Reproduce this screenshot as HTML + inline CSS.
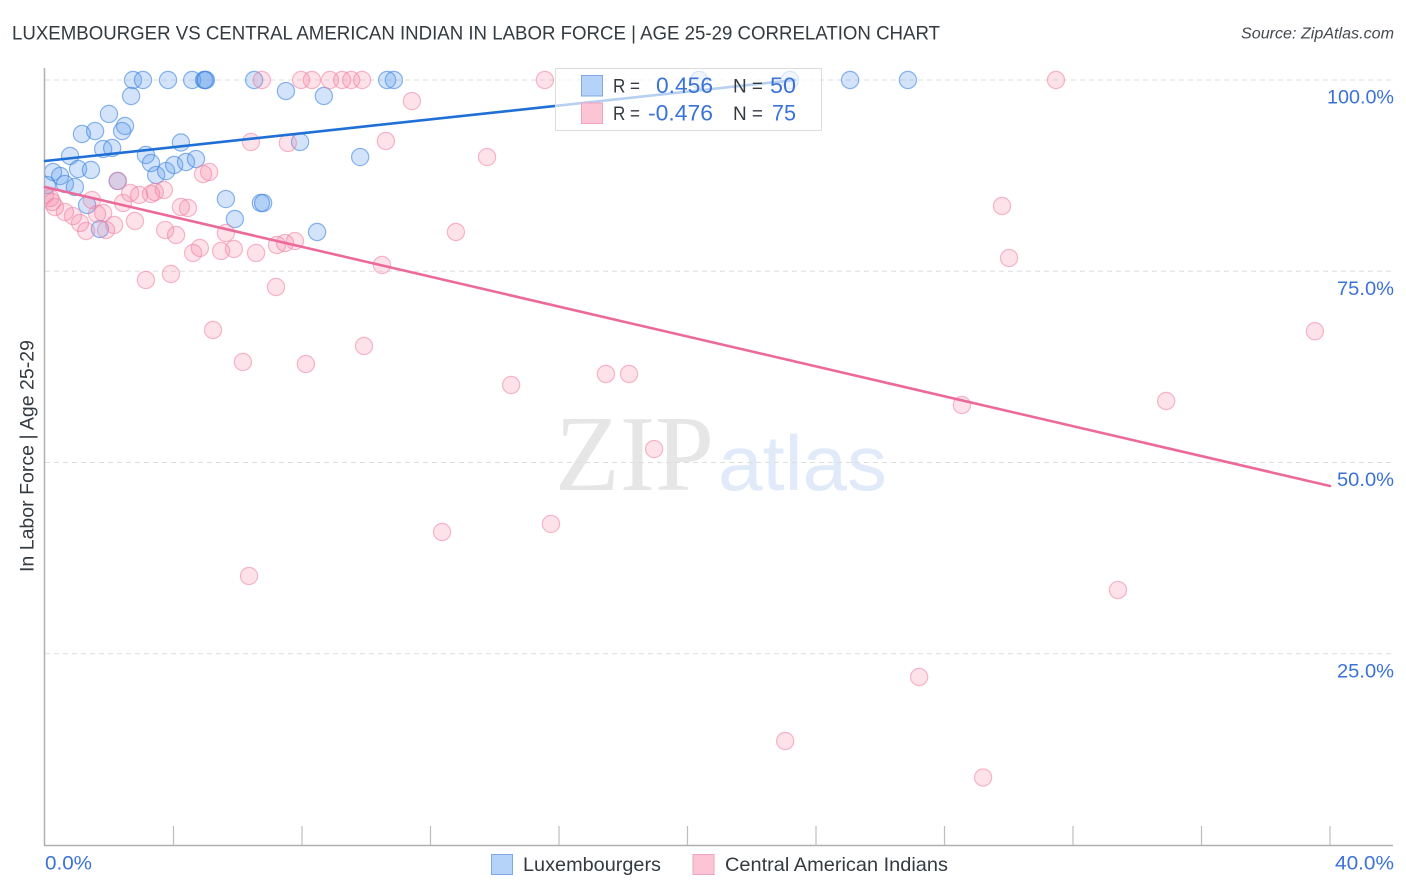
<!DOCTYPE html>
<html lang="en">
<head>
<meta charset="utf-8">
<title>Luxembourger vs Central American Indian in Labor Force | Age 25-29 Correlation Chart</title>
<style>
html,body{margin:0;padding:0;background:#fff;}
svg{display:block;font-family:"Liberation Sans",sans-serif;}
</style>
</head>
<body>
<svg id="chart" width="1406" height="892" viewBox="0 0 1406 892" xmlns="http://www.w3.org/2000/svg">
  <defs>
    <clipPath id="plot-clip"><rect x="45" y="60" width="1350" height="786"/></clipPath>
  </defs>
  <rect x="0" y="0" width="1406" height="892" fill="#ffffff"/>
  <text x="12" y="39.5" font-size="19.5" fill="#333a40" textLength="928" lengthAdjust="spacingAndGlyphs">LUXEMBOURGER VS CENTRAL AMERICAN INDIAN IN LABOR FORCE | AGE 25-29 CORRELATION CHART</text>
  <text x="1241" y="38.5" font-size="15.5" font-style="italic" fill="#444a50" textLength="153" lengthAdjust="spacingAndGlyphs">Source: ZipAtlas.com</text>

  <g>
    <text x="555" y="490" font-family="'Liberation Serif',serif" font-size="108" fill="#e6e6e6" textLength="159" lengthAdjust="spacingAndGlyphs">ZIP</text>
    <text x="718" y="490" font-family="'Liberation Sans',sans-serif" font-size="78" fill="#e0eaf9" textLength="169" lengthAdjust="spacingAndGlyphs">atlas</text>
  </g>

  <g id="grid"></g>
  <g id="axes"></g>
  <g id="points-blue" clip-path="url(#plot-clip)"></g>
  <g id="points-pink" clip-path="url(#plot-clip)"></g>
  <g id="trends"></g>

  <text transform="translate(33.5,572) rotate(-90)" x="0" y="0" font-size="19" fill="#333a40" textLength="232" lengthAdjust="spacingAndGlyphs">In Labor Force | Age 25-29</text>

  <g>
    <rect x="555.5" y="68.5" width="266" height="62" fill="#ffffff" fill-opacity="0.68" stroke="#dcdcdc" stroke-width="1"/>
    <rect x="581.5" y="75.5" width="21" height="20.5" fill="#b5d2f8" stroke="#7fa8e4" stroke-width="1"/>
    <rect x="581.5" y="103" width="21" height="20.5" fill="#fcc5d6" stroke="#efa3bd" stroke-width="1"/>
    <text x="613" y="92.5" font-size="19" fill="#333a40" textLength="27" lengthAdjust="spacingAndGlyphs">R =</text>
    <text x="656" y="93" font-size="22" fill="#3b72d6" textLength="57" lengthAdjust="spacingAndGlyphs">0.456</text>
    <text x="733" y="92.5" font-size="19" fill="#333a40" textLength="30" lengthAdjust="spacingAndGlyphs">N =</text>
    <text x="770" y="93" font-size="22" fill="#3b72d6" textLength="26" lengthAdjust="spacingAndGlyphs">50</text>
    <text x="613" y="120" font-size="19" fill="#333a40" textLength="27" lengthAdjust="spacingAndGlyphs">R =</text>
    <text x="648" y="120.5" font-size="22" fill="#3b72d6" textLength="65" lengthAdjust="spacingAndGlyphs">-0.476</text>
    <text x="733" y="120" font-size="19" fill="#333a40" textLength="30" lengthAdjust="spacingAndGlyphs">N =</text>
    <text x="772" y="120.5" font-size="22" fill="#3b72d6" textLength="24" lengthAdjust="spacingAndGlyphs">75</text>
  </g>

  <g>
    <rect x="491.5" y="854.5" width="21" height="20" fill="#b5d2f8" stroke="#7fa8e4" stroke-width="1"/>
    <text x="523" y="871" font-size="19.5" fill="#333a40" textLength="138" lengthAdjust="spacingAndGlyphs">Luxembourgers</text>
    <rect x="693" y="854.5" width="21" height="20" fill="#fcc5d6" stroke="#efa3bd" stroke-width="1"/>
    <text x="725" y="871" font-size="19.5" fill="#333a40" textLength="223" lengthAdjust="spacingAndGlyphs">Central American Indians</text>
  </g>
</svg>
<script>
var xTickValues = [4, 8, 12, 16, 20, 24, 28, 32, 36, 40];
var yTickValues = [100, 75, 50, 25];
var yTickLabels = ["100.0%", "75.0%", "50.0%", "25.0%"];
var xEndLabels = ["0.0%", "40.0%"];

var blueX = [2.74,3.05,3.83,4.58,4.95,4.98,5.01,6.51,10.65,10.86,20.36,23.19,25.06,26.86,
  7.50,2.68,8.68,1.99,1.15,1.56,2.49,2.40,1.81,2.09,4.23,7.94,9.81,0.78,3.14,3.30,1.03,1.43,
  3.46,3.77,4.02,4.39,4.70,2.26,0.25,0.47,0.62,0.93,0.06,1.31,1.71,5.63,6.72,6.79,5.91,8.47];
var blueY = [100,100,100,100,100,100,100,100,100,100,100,100,100,100,
  98.56,97.91,97.91,95.56,92.94,93.33,93.99,93.33,90.98,91.11,91.83,91.90,89.93,90.07,90.20,89.15,88.37,88.24,
  87.58,88.10,88.89,89.28,89.67,86.80,87.97,87.45,86.41,86.01,86.27,83.66,80.52,84.44,83.92,83.92,81.83,80.13];

var pinkX = [6.75,7.97,8.31,8.87,9.25,9.53,9.87,15.56,31.47,
  11.42,10.61,13.76,6.41,7.56,5.11,4.92,2.27,
  3.70,3.42,3.30,2.93,2.65,2.43,1.46,4.23,4.45,2.80,3.74,4.08,5.63,2.15,1.81,1.62,1.90,1.28,1.09,0.87,0.62,0.31,
  0.00,0.16,0.22,
  4.82,4.61,5.48,5.88,6.57,7.22,7.47,7.78,
  10.49,3.14,3.92,7.19,5.23,6.16,8.12,9.93,14.51,17.46,18.18,28.54,34.90,18.96,12.36,15.75,6.35,33.40,27.21,23.04,29.20,39.53,29.79,30.01,12.79];
var pinkY = [100,100,100,100,100,100,100,100,100,
  97.25,92.03,89.93,91.90,91.77,87.98,87.71,86.80,
  85.62,85.36,85.10,84.97,85.23,83.92,84.31,83.40,83.27,81.57,80.39,79.74,80.00,81.05,82.62,82.49,80.39,80.26,81.31,82.22,82.75,83.40,
  84.97,84.58,84.05,
  78.04,77.39,77.65,77.91,77.39,78.43,78.69,78.95,
  75.82,73.86,74.64,72.94,67.32,63.14,62.88,65.23,60.13,61.57,61.57,57.52,58.04,51.76,40.92,41.97,35.17,33.33,21.96,13.60,8.82,67.16,83.53,76.73,80.13];

var blueTrendX = [0, 23.35];
var blueTrendY = [89.41, 100];
var pinkTrendX = [0, 40];
var pinkTrendY = [86.01, 46.93];

var NS = "http://www.w3.org/2000/svg";
function sx(v) { return 45 + v * 32.125; }
function sy(v) { return 80 + (100 - v) * 7.65; }
function make(tag, parent, attrs) {
  var el = document.createElementNS(NS, tag);
  for (var k in attrs) { el.setAttribute(k, attrs[k]); }
  document.getElementById(parent).appendChild(el);
  return el;
}

yTickValues.forEach(function (v, i) {
  var g = make("line", "grid", {x1: 45, x2: 1393, y1: sy(v), y2: sy(v), stroke: "#dedede", "stroke-width": 1, "stroke-dasharray": "5 4"});
  
  
  var t = make("text", "axes", {x: 1394, y: sy(v) + 23.5, "font-size": 19.5, fill: "#3b72d6", "text-anchor": "end", textLength: yTickLabels[i].length === 6 ? 67 : 57, lengthAdjust: "spacingAndGlyphs"});
  t.textContent = yTickLabels[i];
  
  
});

var yAxis = make("line", "axes", {x1: 44.5, x2: 44.5, y1: 68, y2: 846, stroke: "#b0b0b0", "stroke-width": 1.5});


var xAxis = make("line", "axes", {x1: 44, x2: 1393, y1: 845.5, y2: 845.5, stroke: "#b0b0b0", "stroke-width": 1.5});



xTickValues.forEach(function (v) {
  var tick = make("line", "axes", {x1: sx(v), x2: sx(v), y1: 826, y2: 845, stroke: "#bdbdbd", "stroke-width": 1.2});
  
  
});

var xLabelLeft = make("text", "axes", {x: 45, y: 869.5, "font-size": 19.5, fill: "#3b72d6", textLength: 47, lengthAdjust: "spacingAndGlyphs"});
xLabelLeft.textContent = xEndLabels[0];


var xLabelRight = make("text", "axes", {x: 1335, y: 869.5, "font-size": 19.5, fill: "#3b72d6", textLength: 59, lengthAdjust: "spacingAndGlyphs"});
xLabelRight.textContent = xEndLabels[1];



blueX.forEach(function (v, i) {
  var c = make("circle", "points-blue", {cx: sx(v), cy: sy(blueY[i]), r: 8.6, fill: "#5c9bee", "fill-opacity": 0.27, stroke: "#3f85e0", "stroke-opacity": 0.6, "stroke-width": 1.2});
  
  
});
pinkX.forEach(function (v, i) {
  var c = make("circle", "points-pink", {cx: sx(v), cy: sy(pinkY[i]), r: 8.6, fill: "#f8799f", "fill-opacity": 0.22, stroke: "#ee7fa3", "stroke-opacity": 0.55, "stroke-width": 1.2});
  
  
});

var blueLine = make("line", "trends", {x1: sx(blueTrendX[0]), y1: sy(blueTrendY[0]), x2: sx(blueTrendX[1]), y2: sy(blueTrendY[1]), stroke: "#1f6fd6", "stroke-width": 2.6, "stroke-linecap": "round"});


var pinkLine = make("line", "trends", {x1: sx(pinkTrendX[0]), y1: sy(pinkTrendY[0]), x2: sx(pinkTrendX[1]), y2: sy(pinkTrendY[1]), stroke: "#ec6a9a", "stroke-width": 2.6, "stroke-linecap": "round"});


</script>
</body>
</html>
